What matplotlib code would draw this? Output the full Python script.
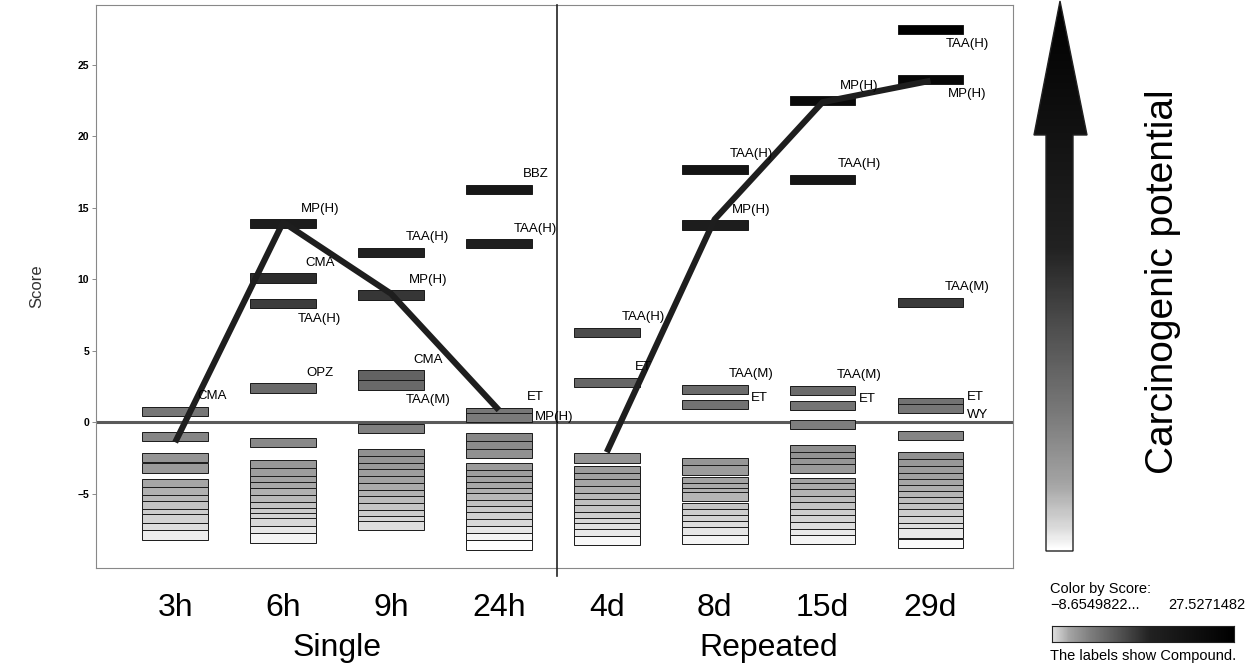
import numpy as np
import matplotlib
matplotlib.use("Agg")
import matplotlib.pyplot as plt
from matplotlib.colors import LinearSegmentedColormap
from matplotlib.patches import Polygon
from matplotlib.transforms import blended_transform_factory

plt.rcParams['font.family'] = ['Liberation Sans', 'DejaVu Sans']

categories = ["3h", "6h", "9h", "24h", "4d", "8d", "15d", "29d"]
groups = ["Single", "Repeated"]

# labelled bars per time point: (score, compound, label side)
labelled = [
    [(0.77, "CMA", "a")],
    [(13.9, "MP(H)", "a"), (10.1, "CMA", "a"), (8.3, "TAA(H)", "b"), (2.4, "OPZ", "a")],
    [(11.9, "TAA(H)", "a"), (8.9, "MP(H)", "a"), (3.3, "CMA", "a"), (2.6, "TAA(M)", "b")],
    [(16.3, "BBZ", "a"), (12.5, "TAA(H)", "a"), (0.7, "ET", "a"), (0.35, "MP(H)", "r")],
    [(6.3, "TAA(H)", "a"), (2.8, "ET", "a")],
    [(17.7, "TAA(H)", "a"), (13.8, "MP(H)", "a"), (2.3, "TAA(M)", "a"), (1.26, "ET", "ra")],
    [(22.5, "MP(H)", "a"), (17.0, "TAA(H)", "a"), (2.24, "TAA(M)", "a"), (1.19, "ET", "ra")],
    [(27.5, "TAA(H)", "b"), (24.0, "MP(H)", "b"), (8.4, "TAA(M)", "a"), (1.35, "ET", "ra"), (0.95, "WY", "rb")],
]

# unlabelled compounds per time point
others = [
    [-1.0, -2.45, -3.2, -4.3, -4.85, -5.4, -5.85, -6.4, -6.75, -7.35, -7.9],
    [-1.4, -3.0, -3.5, -4.1, -4.5, -4.9, -5.4, -5.9, -6.3, -6.7, -7.0, -7.6, -8.1],
    [-0.45, -2.2, -2.7, -3.2, -3.6, -4.1, -4.6, -5.1, -5.5, -6.0, -6.5, -6.9, -7.25],
    [-1.05, -1.65, -2.2, -3.2, -3.7, -4.1, -4.5, -4.9, -5.3, -5.8, -6.2, -6.6, -7.1, -7.6, -8.1, -8.6],
    [-2.5, -3.4, -3.85, -4.3, -4.8, -5.3, -5.7, -6.1, -6.6, -7.0, -7.4, -7.8, -8.3],
    [-2.85, -3.35, -4.15, -4.6, -4.95, -5.2, -6.0, -6.4, -6.8, -7.25, -7.65, -8.2],
    [-0.15, -1.9, -2.4, -2.85, -3.25, -4.2, -4.6, -5.0, -5.5, -5.9, -6.4, -6.8, -7.3, -7.8, -8.2],
    [-0.95, -2.4, -2.9, -3.4, -3.85, -4.3, -4.75, -5.15, -5.55, -5.95, -6.4, -6.9, -7.35, -7.75, -8.5],
]

# MP(H) trend lines
mp_single = [-1.4, 14.0, 9.0, 0.85]
mp_repeated = [-2.1, 14.2, 22.4, 23.9]

score_min, score_max = -8.6549822, 27.5271482

cmap = LinearSegmentedColormap.from_list(
    "score", [(0.0, "#ffffff"), (0.04, "#dadada"), (0.12, "#a4a4a4"), (0.24, "#7c7c7c"),
              (0.42, "#4a4a4a"), (0.55, "#222222"), (1.0, "#000000")])


def score_color(s):
    return cmap((s - score_min) / (score_max - score_min))


fig = plt.figure(figsize=(12.56, 6.71), dpi=100)
ax = fig.add_axes([96 / 1256, 1 - 568 / 671, 917 / 1256, 563 / 671])

x = np.arange(len(categories))
bar_w = 0.61
bar_h = 0.65

for i in x:
    scores = [s for s, _, _ in labelled[i]] + others[i]
    for s in sorted(scores, reverse=True):
        ax.bar(i, bar_h, bottom=s - bar_h / 2, width=bar_w, color=score_color(s),
               edgecolor="#1a1a1a", linewidth=0.7, zorder=2)

offsets = {"a": (0.34, 15, "center"), "b": (0.34, -15, "center"),
           "r": (bar_w / 2 + 0.03, 0, "left"), "ra": (bar_w / 2 + 0.03, 6, "left"),
           "rb": (bar_w / 2 + 0.03, -6, "left")}
for i in x:
    for s, name, side in labelled[i]:
        dx, dy, ha = offsets[side]
        ax.annotate(name, (i + dx, s), xytext=(0, dy * 0.72), textcoords="offset points",
                    ha=ha, va="center", fontsize=9.5, zorder=5, annotation_clip=False)

ax.axhline(0, color="#5a5a5a", lw=2.2, zorder=1)
ax.plot(x[:4], mp_single, color="#1e1e1e", lw=4.4, solid_capstyle="butt", zorder=4)
ax.plot(x[4:], mp_repeated, color="#1e1e1e", lw=4.4, solid_capstyle="butt", zorder=4)
ax.axvline(3.54, ymin=-0.015, ymax=1, color="#222222", lw=1.2, clip_on=False, zorder=3)

ax.set_xlim(-0.734, 7.765)
ax.set_ylim(-10.2, 29.2)
ax.set_yticks([-5, 0, 5, 10, 15, 20, 25])
ax.set_yticklabels(["\u22125", "0", "5", "10", "15", "20", "25"], fontsize=7.5, fontweight="bold")
ax.tick_params(axis="y", length=3, width=0.6, color="#777777", pad=2)
ax.set_xticks(x)
ax.set_xticklabels(categories, fontsize=23)
ax.tick_params(axis="x", length=0, pad=18)
for sp in ax.spines.values():
    sp.set_color("#888888")
    sp.set_linewidth(0.8)
ax.set_ylabel("Score", fontsize=12, color="#333333", labelpad=24)

trans = blended_transform_factory(ax.transData, ax.transAxes)
ax.text(1.5, -0.142, groups[0], transform=trans, ha="center", va="center", fontsize=23)
ax.text(5.5, -0.142, groups[1], transform=trans, ha="center", va="center", fontsize=23)

# gradient arrow
aax = fig.add_axes([1025 / 1256, 1 - 556 / 671, 70 / 1256, 556 / 671])
aax.set_xlim(1025, 1095)
aax.set_ylim(556, 0)
aax.axis("off")
pts = [(1060, 1), (1087, 135), (1073, 135), (1073, 551), (1046, 551), (1046, 135), (1034, 135)]
poly = Polygon(pts, closed=True, facecolor="none", edgecolor="#222222", lw=1.0, zorder=3)
aax.add_patch(poly)
grad = np.linspace(1, 0, 300).reshape(-1, 1)
im = aax.imshow(grad, cmap=cmap, extent=(1025, 1095, 551, 1), aspect="auto", vmin=0, vmax=1, zorder=2)
im.set_clip_path(poly)

fig.text(1163 / 1256, 1 - 282 / 671, "Carcinogenic potential", rotation=90,
         ha="center", va="center", fontsize=28)

# colour legend
fig.text(1050 / 1256, 1 - 589 / 671, "Color by Score:", fontsize=10.5, va="center")
fig.text(1050 / 1256, 1 - 605 / 671, "\u22128.6549822...", fontsize=10.5, va="center")
fig.text(1245 / 1256, 1 - 605 / 671, "27.5271482", fontsize=10.5, va="center", ha="right")
cax = fig.add_axes([1052 / 1256, 1 - 642 / 671, 182 / 1256, 16 / 671])
cax.imshow(np.linspace(0.03, 1, 300).reshape(1, -1), cmap=cmap, aspect="auto", vmin=0, vmax=1)
cax.set_xticks([])
cax.set_yticks([])
for sp in cax.spines.values():
    sp.set_color("#222222")
fig.text(1050 / 1256, 1 - 656 / 671, "The labels show Compound.", fontsize=10.5, va="center")

fig.savefig("out.png", dpi=100)
